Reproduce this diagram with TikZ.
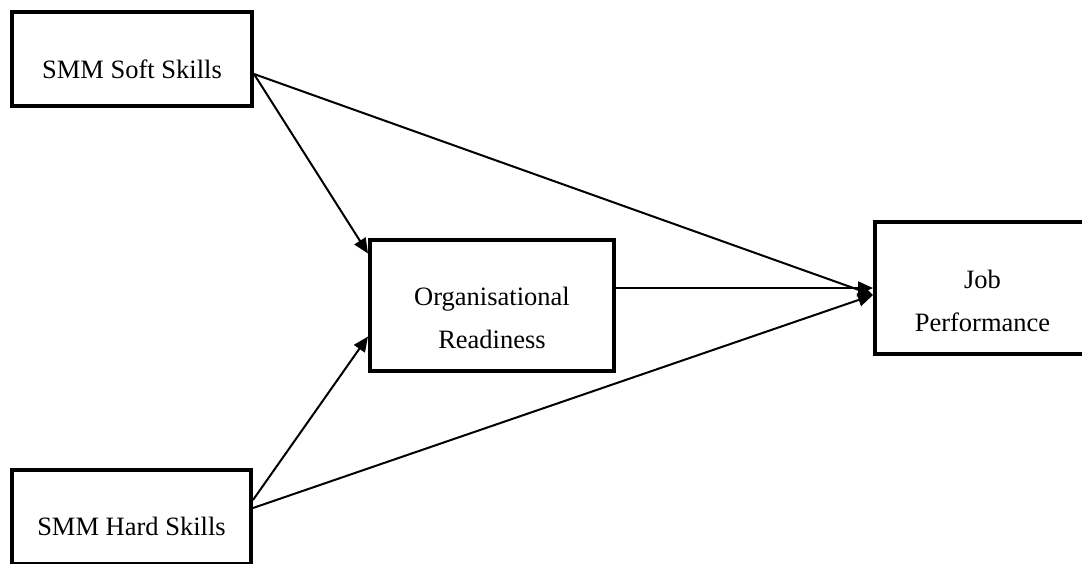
\documentclass[tikz,border=0pt]{standalone}
\usepackage{fontspec}
\setmainfont{Liberation Serif}
\usetikzlibrary{arrows.meta}
\tikzset{>={Triangle[length=15pt,width=13pt]}}
\tikzset{factor/.style={draw,line width=4pt,align=center,inner sep=0pt,
    font=\fontsize{26.5pt}{43pt}\selectfont}}
\tikzset{link/.style={->,line width=2pt}}

\begin{document}
\begin{tikzpicture}[x=1pt,y=-1pt]
                    \useasboundingbox (0,0) rectangle (1082,563);
                    \clip (0,0) rectangle (1082,563);

                    \node[factor, minimum width=240pt, minimum height=94pt, text height=38pt, text depth=0pt] (soft) at (132,59) {SMM Soft Skills};
                    \node[factor, minimum width=239pt, minimum height=94pt, text height=36pt, text depth=0pt] (hard) at (131.5,517) {SMM Hard Skills};
                    \node[factor, minimum width=244pt, minimum height=131pt, text height=86pt, text depth=0pt] (org) at (492,305.5) {Organisational\\Readiness};
                    \node[factor, minimum width=215pt, minimum height=132pt, text height=86pt, text depth=0pt] (job) at (982.5,288) {Job\\Performance};

                    \draw[link] ([yshift=-15pt]soft.east) -- ([yshift=52pt]org.west);
                    \draw[link] ([yshift=-15pt]soft.east) -- ([yshift=-7pt]job.west);
                    \draw[link] ([yshift=17pt]hard.east) -- ([yshift=-31pt]org.west);
                    \draw[link] ([yshift=9pt]hard.east) -- ([yshift=-7pt]job.west);
                    \draw[link] ([yshift=17.5pt]org.east) -- (job.west);
                \end{tikzpicture}
\end{document}
